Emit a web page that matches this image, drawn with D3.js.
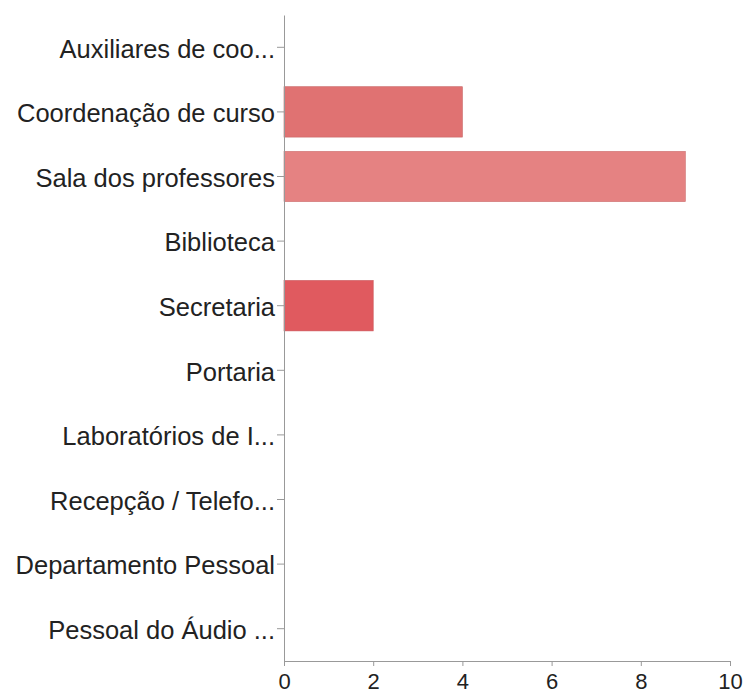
<!DOCTYPE html>
<html>
<head>
<meta charset="utf-8">
<script src="https://cdn.jsdelivr.net/npm/d3@7"></script>
<style>
  body { margin: 0; background: #fff; }
  .axis path, .axis line { stroke: #999; }
  .axis text { fill: #222; font-family: "Liberation Sans", Arial, sans-serif; }
</style>
</head>
<body>
<div id="chart"></div>
<script>
// data
var categories = ["Auxiliares de coo...", "Coordenação de curso", "Sala dos professores",
  "Biblioteca", "Secretaria", "Portaria", "Laboratórios de I...", "Recepção / Telefo...",
  "Departamento Pessoal", "Pessoal do Áudio ..."];
var values = [0, 4, 9, 0, 2, 0, 0, 0, 0, 0];
var barColors = ["#e07474", "#e07272", "#e58282", "#e07474", "#e05a5f", "#e07474",
  "#e07474", "#e07474", "#e07474", "#e07474"];
var xTicks = [0, 2, 4, 6, 8, 10];

var margin = {top: 15, right: 16, bottom: 34, left: 284},
  width = 746 - margin.left - margin.right,
  height = 695 - margin.top - margin.bottom;

var svg = d3.select("#chart")
  .append("svg")
  .attr("width", 746)
  .attr("height", 695)
  .append("g")
  .attr("transform", "translate(" + margin.left + "," + margin.top + ")");

var x = d3.scaleLinear()
  .domain([0, 10])
  .range([0, width]);

var y = d3.scaleBand()
  .domain(categories)
  .range([0, height])
  .paddingInner(0.22)
  .paddingOuter(0.11);

// bars
svg.selectAll(".bar")
  .data(values)
  .enter()
  .append("rect")
    .attr("class", "bar")
    .attr("x", x(0))
    .attr("y", (d, i) => y(categories[i]))
    .attr("width", d => x(d) - x(0))
    .attr("height", y.bandwidth())
    .attr("fill", (d, i) => barColors[i])
    .attr("stroke", (d, i) => d > 0 ? d3.color(barColors[i]).darker(0.3) : "none")
    .attr("stroke-width", 0.6);

// X axis
svg.append("g")
  .attr("class", "axis")
  .attr("transform", "translate(0," + height + ")")
  .call(d3.axisBottom(x).tickValues(xTicks).tickSize(5).tickSizeOuter(5).tickPadding(7))
  .call(g => g.selectAll("text").attr("font-size", 22));

// Y axis
svg.append("g")
  .attr("class", "axis")
  .call(d3.axisLeft(y).tickSize(7).tickSizeOuter(0).tickPadding(2))
  .call(g => g.selectAll("text").attr("font-size", 25.5).attr("dy", "0.4em"));
</script>
</body>
</html>
